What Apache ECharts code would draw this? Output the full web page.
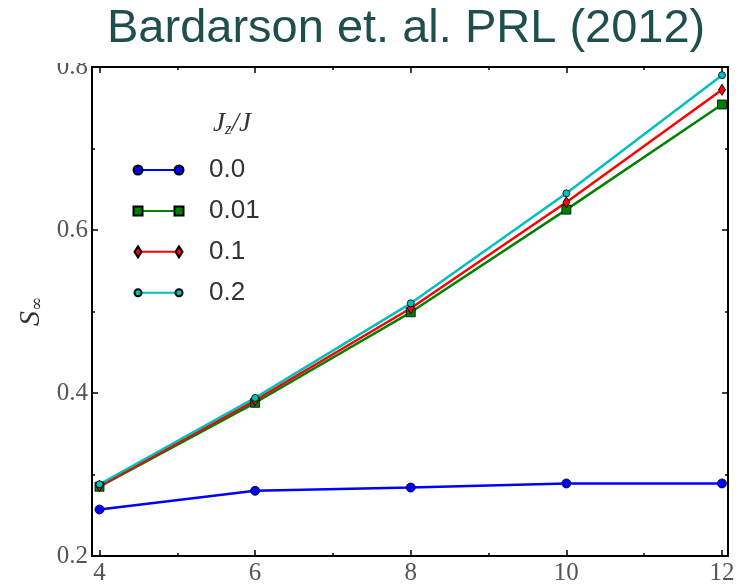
<!DOCTYPE html>
<html>
<head>
<meta charset="utf-8">
<script src="https://cdn.jsdelivr.net/npm/echarts@6/dist/echarts.min.js"></script>
<style>
  html, body { margin: 0; padding: 0; background: #fff; }
  #chart { width: 742px; height: 586px; }
</style>
</head>
<body>
<div id="chart"></div>
<script>
// system sizes L
const sizes = [4, 6, 8, 10, 12];
// S_inf for each Jz/J
const jz00 = [0.257, 0.280, 0.284, 0.289, 0.289];
const jz001 = [0.285, 0.388, 0.499, 0.625, 0.754];
const jz01 = [0.286, 0.391, 0.504, 0.634, 0.772];
const jz02 = [0.288, 0.394, 0.510, 0.645, 0.790];
const seriesNames = ["0.0", "0.01", "0.1", "0.2"];
const xMajor = [4, 6, 8, 10, 12];
const xMinor = [5, 7, 9, 11];

const pairs = (ys) => sizes.map((x, i) => [x, ys[i]]);

const X_MIN = 3.904, X_MAX = 12.077;
const tickStyle = { color: "#000", width: 1.5 };

function xAx(pos, ticks, len, showLabel) {
  return {
    type: "value",
    position: pos,
    min: X_MIN,
    max: X_MAX,
    axisLine: { show: false },
    splitLine: { show: false },
    axisTick: { show: true, inside: true, length: len, customValues: ticks, lineStyle: tickStyle },
    axisLabel: {
      show: showLabel,
      customValues: ticks,
      margin: 5,
      color: "#555",
      fontFamily: "Liberation Serif",
      fontSize: 25,
    },
  };
}

function yAx(pos, showLabel) {
  return {
    type: "value",
    position: pos,
    min: 0.2,
    max: 0.8,
    interval: 0.2,
    axisLine: { show: false },
    splitLine: { show: false },
    axisTick: { show: true, inside: true, length: 6, lineStyle: tickStyle },
    minorTick: { show: true, splitNumber: 2, length: 3, lineStyle: tickStyle },
    axisLabel: {
      show: showLabel,
      margin: 4,
      color: "#555",
      fontFamily: "Liberation Serif",
      fontSize: 25,
      formatter: (v) => v.toFixed(1),
    },
  };
}

const chart = echarts.init(document.getElementById("chart"));

const markerIcons = [
  "path://M0,0M50,11M0,5.5A4.5,4.5 0 1,0 9,5.5A4.5,4.5 0 1,0 0,5.5ZM41,5.5A4.5,4.5 0 1,0 50,5.5A4.5,4.5 0 1,0 41,5.5Z",
  "path://M0,0M50,11M0,1H9V10H0ZM41,1H50V10H41Z",
  "path://M0,0M50,11M4.5,0L8,5.5L4.5,11L1,5.5ZM45.5,0L49,5.5L45.5,11L42,5.5Z",
  "path://M0,0M50,11M1,5.5A3.5,3.5 0 1,0 8,5.5A3.5,3.5 0 1,0 1,5.5ZM42,5.5A3.5,3.5 0 1,0 49,5.5A3.5,3.5 0 1,0 42,5.5Z",
];

const legendText = {
  color: "#333",
  fontFamily: "Liberation Sans",
  fontSize: 26,
  lineHeight: 20,
  padding: [0, 0, 0, 26],
};

chart.setOption({
  animation: false,
  backgroundColor: "#fff",
  title: [
    {
      text: "Bardarson et. al. PRL (2012)",
      left: 102,
      top: 1,
      textStyle: { color: "#1f4e4f", fontFamily: "Liberation Sans", fontSize: 47, fontWeight: "normal" },
    },
    {
      text: "{i|J}{s|z}{i|/J}",
      left: 208,
      top: 105,
      textStyle: {
        rich: {
          i: { fontFamily: "Liberation Serif", fontStyle: "italic", fontWeight: "normal", fontSize: 27, color: "#333", lineHeight: 28 },
          s: { fontFamily: "Liberation Serif", fontStyle: "italic", fontWeight: "normal", fontSize: 17, color: "#333", verticalAlign: "bottom", lineHeight: 28 },
        },
      },
    },
  ],
  graphic: [
    { type: "rect", left: 0, top: 0, z: 5, shape: { width: 742, height: 63 }, style: { fill: "#fff" } },
  ],
  grid: {
    left: 92,
    top: 67,
    width: 636,
    height: 493,
    show: true,
    borderColor: "#000",
    borderWidth: 2,
    backgroundColor: "transparent",
  },
  legend: [
    {
      orient: "vertical",
      left: 137,
      top: 157,
      padding: 0,
      itemGap: 14.9,
      icon: "rect",
      itemWidth: 41,
      itemHeight: 2,
      itemStyle: { borderWidth: 0 },
      textStyle: legendText,
      data: seriesNames,
    },
    {
      orient: "vertical",
      left: 132.5,
      top: 157,
      padding: 0,
      itemGap: 14.9,
      itemWidth: 50,
      itemHeight: 11,
      textStyle: Object.assign({}, legendText, { color: "rgba(0,0,0,0)" }),
      data: seriesNames.map((n, i) => ({ name: n, icon: markerIcons[i] })),
    },
  ],
  xAxis: [
    xAx("bottom", xMajor, 6, true),
    xAx("bottom", xMinor, 3, false),
    xAx("top", xMajor, 6, false),
    xAx("top", xMinor, 3, false),
  ],
  yAxis: [
    Object.assign(yAx("left", true), {
      name: "{i|S}{s|∞}",
      nameLocation: "middle",
      nameRotate: 90,
      nameGap: 46,
      nameTextStyle: {
        rich: {
          i: { fontFamily: "Liberation Serif", fontStyle: "italic", fontSize: 30, color: "#333", lineHeight: 30 },
          s: { fontFamily: "DejaVu Serif", fontSize: 17, color: "#333", verticalAlign: "bottom", lineHeight: 30 },
        },
      },
    }),
    yAx("right", false),
  ],
  series: [
    { name: "0.0", type: "line", data: pairs(jz00), symbol: "circle", symbolSize: 9, color: "#0000ff" },
    { name: "0.01", type: "line", data: pairs(jz001), symbol: "rect", symbolSize: 9, color: "#008000" },
    { name: "0.1", type: "line", data: pairs(jz01), symbol: "diamond", symbolSize: [7, 11], color: "#ff0000" },
    { name: "0.2", type: "line", data: pairs(jz02), symbol: "circle", symbolSize: 7, color: "#00bfbf" },
  ].map((s) => Object.assign(s, {
    xAxisIndex: 0,
    yAxisIndex: 0,
    showAllSymbol: true,
    lineStyle: { width: 2.5 },
    itemStyle: { color: s.color, borderColor: "#000", borderWidth: 0.8 },
    emphasis: { disabled: true },
  })),
});
</script>
</body>
</html>
